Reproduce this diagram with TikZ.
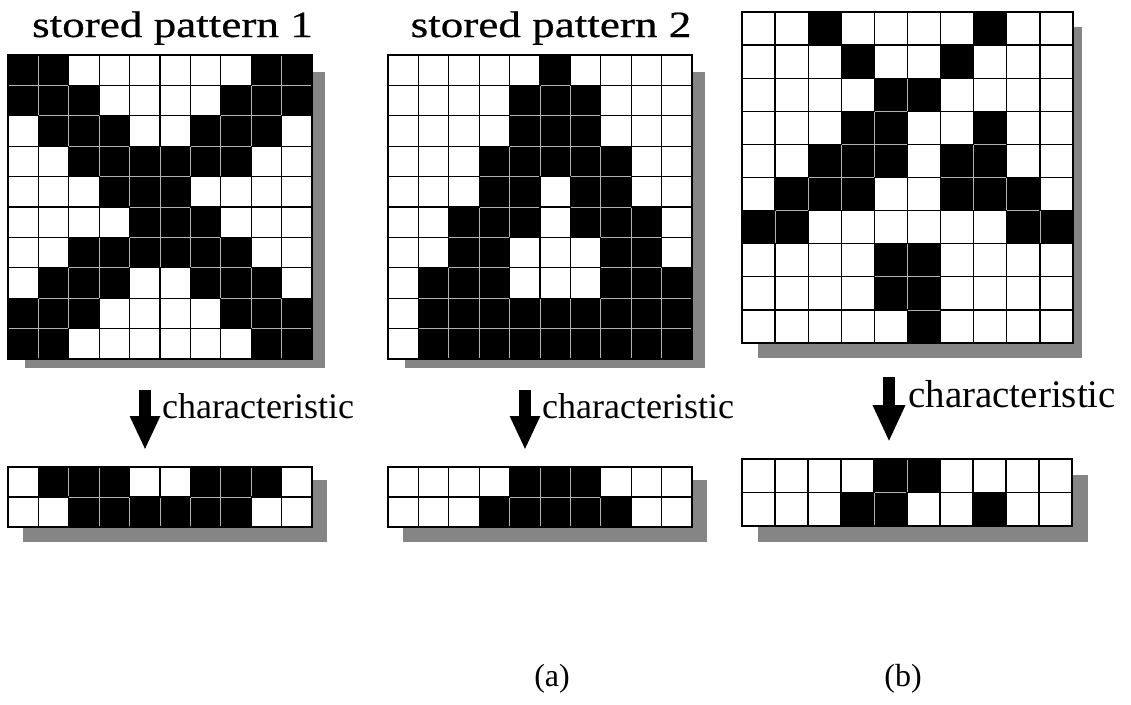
\documentclass[tikz,border=0pt]{standalone}
\usepackage{fontspec}
\setmainfont{Liberation Serif}
\newfontfamily\titlefont[FakeStretch=1.22,FakeBold=0.6]{Liberation Serif}
\usetikzlibrary{arrows.meta}
\tikzset{
  blackcell/.style={fill=black,draw=gray!60,line width=0.8pt},
  whitecell/.style={fill=white,draw=black,line width=1.3pt},
  outline/.style={draw=black,line width=1.3pt},
  shadowbox/.style={fill=black!48},
  txt/.style={inner sep=0pt,anchor=base west},
  bigarrow/.style={line width=12pt,-{Triangle[width=28pt,length=34pt]}},
}
\newcommand\pgrid[5]{%
  \foreach \row [count=\r] in {#5} {
    \foreach \v [count=\c] in \row {
      \ifnum\v=1
        \path[blackcell] ({#1+(\c-1)*#3},{#2+(\r-1)*#4}) rectangle ++(#3,#4);
      \fi
    }
  }
  \foreach \row [count=\r] in {#5} {
    \foreach \v [count=\c] in \row {
      \ifnum\v=0
        \path[whitecell] ({#1+(\c-1)*#3},{#2+(\r-1)*#4}) rectangle ++(#3,#4);
      \fi
    }
  }
}
\begin{document}
\begin{tikzpicture}[x=1pt,y=-1pt]
\useasboundingbox[fill=white] (0,0) rectangle (1131,704);
% shadows
\fill[shadowbox] (25,72) rectangle (325,368);
\fill[shadowbox] (405,72) rectangle (705,368);
\fill[shadowbox] (758,27) rectangle (1082,358);
\fill[shadowbox] (23,480) rectangle (327,542);
\fill[shadowbox] (403,480) rectangle (707,542);
\fill[shadowbox] (758,475) rectangle (1088,542);
% pattern 1
\pgrid{8}{55}{30.4}{30.4}{%
{1,1,0,0,0,0,0,0,1,1},
{1,1,1,0,0,0,0,1,1,1},
{0,1,1,1,0,0,1,1,1,0},
{0,0,1,1,1,1,1,1,0,0},
{0,0,0,1,1,1,0,0,0,0},
{0,0,0,0,1,1,1,0,0,0},
{0,0,1,1,1,1,1,1,0,0},
{0,1,1,1,0,0,1,1,1,0},
{1,1,1,0,0,0,0,1,1,1},
{1,1,0,0,0,0,0,0,1,1}}
\draw[outline] (8,55) rectangle (312,359);
% pattern 2
\pgrid{388}{55}{30.4}{30.4}{%
{0,0,0,0,0,1,0,0,0,0},
{0,0,0,0,1,1,1,0,0,0},
{0,0,0,0,1,1,1,0,0,0},
{0,0,0,1,1,1,1,1,0,0},
{0,0,0,1,1,0,1,1,0,0},
{0,0,1,1,1,0,1,1,1,0},
{0,0,1,1,0,0,0,1,1,0},
{0,1,1,1,0,0,0,1,1,1},
{0,1,1,1,1,1,1,1,1,1},
{0,1,1,1,1,1,1,1,1,1}}
\draw[outline] (388,55) rectangle (692,359);
% pattern 3
\pgrid{742}{12}{33.1}{33.1}{%
{0,0,1,0,0,0,0,1,0,0},
{0,0,0,1,0,0,1,0,0,0},
{0,0,0,0,1,1,0,0,0,0},
{0,0,0,1,1,0,0,1,0,0},
{0,0,1,1,1,0,1,1,0,0},
{0,1,1,1,0,0,1,1,1,0},
{1,1,0,0,0,0,0,0,1,1},
{0,0,0,0,1,1,0,0,0,0},
{0,0,0,0,1,1,0,0,0,0},
{0,0,0,0,0,1,0,0,0,0}}
\draw[outline] (742,12) rectangle (1073,343);
% characteristics
\pgrid{8}{467}{30.4}{30}{%
{0,1,1,1,0,0,1,1,1,0},
{0,0,1,1,1,1,1,1,0,0}}
\draw[outline] (8,467) rectangle (312,527);
\pgrid{388}{467}{30.4}{30}{%
{0,0,0,0,1,1,1,0,0,0},
{0,0,0,1,1,1,1,1,0,0}}
\draw[outline] (388,467) rectangle (692,527);
\pgrid{742}{459}{33}{33.5}{%
{0,0,0,0,1,1,0,0,0,0},
{0,0,0,1,1,0,0,1,0,0}}
\draw[outline] (742,459) rectangle (1072,526);
% titles
\node[inner sep=0pt,anchor=base] (t1) at (172.5,37) {\titlefont\fontsize{37}{40}\selectfont stored pattern 1};
\node[inner sep=0pt,anchor=base] (t2) at (551,37) {\titlefont\fontsize{37}{40}\selectfont stored pattern 2};
% arrows and labels
\coordinate (a1s) at (145,390); \coordinate (a1e) at (145,450);
\coordinate (a2s) at (525,390); \coordinate (a2e) at (525,450);
\coordinate (a3s) at (889,377); \coordinate (a3e) at (889,442);
\draw[bigarrow] (a1s) -- (a1e);
\draw[bigarrow] (a2s) -- (a2e);
\draw[bigarrow,-{Triangle[width=30pt,length=37pt]}] (a3s) -- (a3e);
\node[txt] (c1) at (162,418) {\fontsize{36}{40}\selectfont characteristic};
\node[txt] (c2) at (542,418) {\fontsize{36}{40}\selectfont characteristic};
\node[txt] (c3) at (908,407) {\fontsize{39}{43}\selectfont characteristic};
% sub labels
\node[inner sep=0pt,anchor=base] (la) at (552,686) {\fontsize{32}{36}\selectfont (a)};
\node[inner sep=0pt,anchor=base] (lb) at (903,686) {\fontsize{32}{36}\selectfont (b)};
\end{tikzpicture}
\end{document}
